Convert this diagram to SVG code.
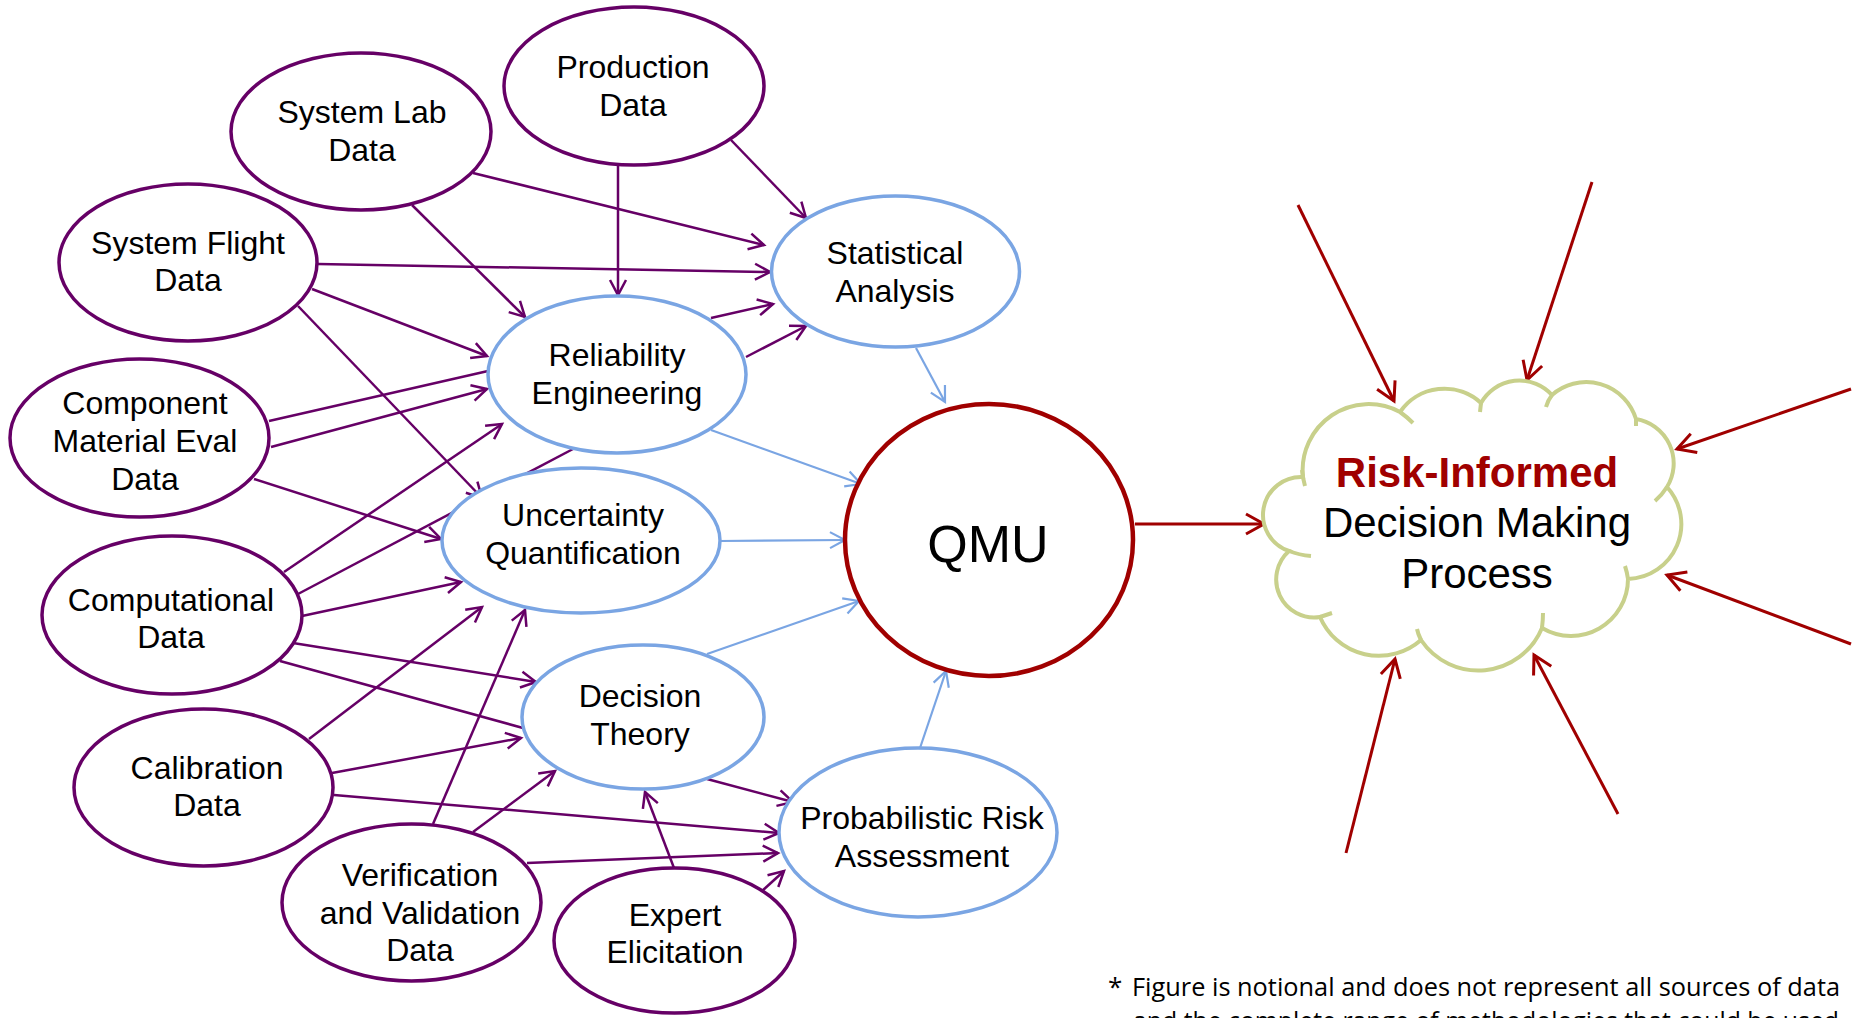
<svg xmlns="http://www.w3.org/2000/svg" width="1860" height="1018" viewBox="0 0 1860 1018">
  <style>
    .src ellipse { fill: #ffffff; stroke: #660066; stroke-width: 3.5; }
    .mth ellipse { fill: #ffffff; stroke: #7aa5e3; stroke-width: 3.5; }
    .qmu ellipse { fill: #ffffff; stroke: #a00000; stroke-width: 4.5; }
    text { font-family: "Liberation Sans", Arial, sans-serif; font-size: 32px; fill: #000000; text-anchor: middle; }
    .p { stroke: #660066; stroke-width: 2.5; fill: none; marker-end: url(#ah-p); }
    .pn { stroke: #660066; stroke-width: 2.5; fill: none; }
    .b { stroke: #7aa5e3; stroke-width: 2.2; fill: none; marker-end: url(#ah-b); }
    .r { stroke: #a00000; stroke-width: 3; fill: none; marker-end: url(#ah-r); }
    .cloud { fill: #ffffff; stroke: #c8d08b; stroke-width: 4; stroke-linecap: butt; }
    .hook { fill: none; stroke: #c8d08b; stroke-width: 4; }
    .note { font-family: "Open Sans", "Liberation Sans", sans-serif; font-size: 26px; text-anchor: start; }
  </style>
  <defs>
    <marker id="ah-p" markerUnits="userSpaceOnUse" viewBox="-20 -12 24 24" refX="0" refY="0" markerWidth="24" markerHeight="24" orient="auto" overflow="visible">
      <path d="M-15,-8 L0,0 L-15,8" fill="none" stroke="#660066" stroke-width="2.5"/>
    </marker>
    <marker id="ah-b" markerUnits="userSpaceOnUse" viewBox="-20 -12 24 24" refX="0" refY="0" markerWidth="24" markerHeight="24" orient="auto" overflow="visible">
      <path d="M-15,-8 L0,0 L-15,8" fill="none" stroke="#7aa5e3" stroke-width="2.2"/>
    </marker>
    <marker id="ah-r" markerUnits="userSpaceOnUse" viewBox="-24 -14 28 28" refX="0" refY="0" markerWidth="28" markerHeight="28" orient="auto" overflow="visible">
      <path d="M-18,-10 L0,0 L-18,10" fill="none" stroke="#a00000" stroke-width="3"/>
    </marker>
  </defs>

  <rect width="1860" height="1018" fill="#ffffff"/>

  <!-- connectors -->
  <g id="connectors">
    <!-- data sources into methods -->
    <line class="p" x1="618" y1="165" x2="618" y2="295"/>
    <line class="p" x1="731" y1="140" x2="806" y2="218"/>
    <line class="p" x1="473" y1="173" x2="764" y2="245"/>
    <line class="p" x1="412" y1="205" x2="525" y2="317"/>
    <line class="p" x1="318" y1="264" x2="770" y2="272"/>
    <line class="p" x1="312" y1="289" x2="487" y2="356"/>
    <line class="p" x1="298" y1="306" x2="482" y2="498"/>
    <line class="pn" x1="269" y1="421" x2="488" y2="371"/>
    <line class="p" x1="271" y1="447" x2="487" y2="389"/>
    <line class="p" x1="254" y1="479" x2="441" y2="539"/>
    <line class="p" x1="284" y1="572" x2="502" y2="424"/>
    <line class="pn" x1="298" y1="594" x2="573" y2="449"/>
    <line class="p" x1="302" y1="616" x2="461" y2="582"/>
    <line class="p" x1="293" y1="643" x2="536" y2="682"/>
    <line class="pn" x1="280" y1="661" x2="523" y2="728"/>
    <line class="p" x1="309" y1="739" x2="482" y2="607"/>
    <line class="p" x1="332" y1="773" x2="521" y2="738"/>
    <line class="p" x1="334" y1="795" x2="779" y2="833"/>
    <line class="p" x1="433" y1="824" x2="525" y2="610"/>
    <line class="p" x1="473" y1="832" x2="555" y2="771"/>
    <line class="p" x1="527" y1="863" x2="778" y2="853"/>
    <line class="p" x1="674" y1="868" x2="645" y2="792"/>
    <line class="p" x1="762" y1="891" x2="784" y2="871"/>
    <line class="p" x1="707" y1="779" x2="793" y2="802"/>
    <line class="p" x1="711" y1="318" x2="773" y2="304"/>
    <line class="p" x1="746" y1="357" x2="806" y2="326"/>
    <!-- methods into QMU -->
    <line class="b" x1="916" y1="348" x2="945" y2="402"/>
    <line class="b" x1="711" y1="430" x2="861" y2="484"/>
    <line class="b" x1="720" y1="541" x2="845" y2="540"/>
    <line class="b" x1="707" y1="654" x2="859" y2="601"/>
    <line class="b" x1="920" y1="748" x2="946" y2="671"/>
    <!-- QMU and other inputs into the decision cloud -->
    <line class="r" x1="1135" y1="524" x2="1264" y2="524"/>
    <line class="r" x1="1298" y1="205" x2="1394" y2="401"/>
    <line class="r" x1="1592" y1="182" x2="1527" y2="380"/>
    <line class="r" x1="1851" y1="389" x2="1677" y2="449"/>
    <line class="r" x1="1851" y1="644" x2="1667" y2="575"/>
    <line class="r" x1="1346" y1="853" x2="1395" y2="659"/>
    <line class="r" x1="1618" y1="814" x2="1534" y2="655"/>
  </g>

  <!-- data sources -->
  <g id="production-data" class="src">
    <ellipse cx="634" cy="86" rx="130" ry="79"/>
    <text x="633" y="78">Production</text>
    <text x="633" y="116">Data</text>
  </g>
  <g id="system-lab-data" class="src">
    <ellipse cx="361" cy="131.5" rx="130" ry="78.5"/>
    <text x="362" y="123">System Lab</text>
    <text x="362" y="161">Data</text>
  </g>
  <g id="system-flight-data" class="src">
    <ellipse cx="188" cy="262.5" rx="129" ry="78.5"/>
    <text x="188" y="254">System Flight</text>
    <text x="188" y="291">Data</text>
  </g>
  <g id="component-material-eval-data" class="src">
    <ellipse cx="139.5" cy="438" rx="129.5" ry="79"/>
    <text x="145" y="414">Component</text>
    <text x="145" y="452">Material Eval</text>
    <text x="145" y="490">Data</text>
  </g>
  <g id="computational-data" class="src">
    <ellipse cx="172" cy="615" rx="130" ry="79"/>
    <text x="171" y="611">Computational</text>
    <text x="171" y="648">Data</text>
  </g>
  <g id="calibration-data" class="src">
    <ellipse cx="203.5" cy="787.5" rx="129.5" ry="78.5"/>
    <text x="207" y="779">Calibration</text>
    <text x="207" y="816">Data</text>
  </g>
  <g id="vv-data" class="src">
    <ellipse cx="411.5" cy="902.5" rx="129.5" ry="78.5"/>
    <text x="420" y="886">Verification</text>
    <text x="420" y="924">and Validation</text>
    <text x="420" y="961">Data</text>
  </g>
  <g id="expert-elicitation" class="src">
    <ellipse cx="674.5" cy="940.5" rx="120.5" ry="72.5"/>
    <text x="675" y="926">Expert</text>
    <text x="675" y="963">Elicitation</text>
  </g>

  <!-- methods -->
  <g id="statistical-analysis" class="mth">
    <ellipse cx="895.5" cy="271.5" rx="124" ry="75.5"/>
    <text x="895" y="264">Statistical</text>
    <text x="895" y="302">Analysis</text>
  </g>
  <g id="reliability-engineering" class="mth">
    <ellipse cx="617" cy="374.5" rx="129" ry="78.5"/>
    <text x="617" y="366">Reliability</text>
    <text x="617" y="404">Engineering</text>
  </g>
  <g id="uncertainty-quantification" class="mth">
    <ellipse cx="581" cy="540.5" rx="139" ry="72.5"/>
    <text x="583" y="526">Uncertainty</text>
    <text x="583" y="564">Quantification</text>
  </g>
  <g id="decision-theory" class="mth">
    <ellipse cx="643" cy="717" rx="121" ry="72"/>
    <text x="640" y="707">Decision</text>
    <text x="640" y="745">Theory</text>
  </g>
  <g id="probabilistic-risk-assessment" class="mth">
    <ellipse cx="918" cy="832.5" rx="139" ry="84.5"/>
    <text x="922" y="829">Probabilistic Risk</text>
    <text x="922" y="867">Assessment</text>
  </g>

  <!-- QMU -->
  <g id="qmu" class="qmu">
    <ellipse cx="989" cy="540" rx="144" ry="136"/>
    <text x="988" y="562" style="font-size:52px">QMU</text>
  </g>

  <!-- decision cloud -->
  <g id="decision-cloud">
    <path class="cloud" d="M1289,551 A38,38 0 0 1 1303,477 A66,66 0 0 1 1400,412 A54,54 0 0 1 1481,403 A44,44 0 0 1 1552,395 A52,52 0 0 1 1636,419 A45,45 0 0 1 1667,487 A55,55 0 0 1 1628,579 A57,57 0 0 1 1542,628 A69,69 0 0 1 1421,640 A64,64 0 0 1 1320,617 A38,38 0 0 1 1289,551 Z"/>
    <path class="hook" d="M1302,470 Q1303,479 1305,486 M1289,551 Q1299,555 1311,556 M1320,617 Q1326,615 1332,613 M1421,640 Q1418,634 1417,629 M1542,628 Q1543,620 1543,613 M1628,579 Q1627,572 1625,566 M1667,487 Q1662,495 1655,501 M1636,419 L1636,426 M1552,395 Q1548,400 1546,407 M1481,403 L1480,412 M1400,412 Q1407,417 1413,423"/>
    <text x="1477" y="487" style="font-size:42px;font-weight:bold;fill:#a00000">Risk-Informed</text>
    <text x="1477" y="537" style="font-size:42px">Decision Making</text>
    <text x="1477" y="588" style="font-size:42px">Process</text>
  </g>

  <!-- footnote -->
  <g id="footnote">
    <text class="note" x="1108" y="996">*</text>
    <text class="note" x="1132" y="996" textLength="708" lengthAdjust="spacingAndGlyphs">Figure is notional and does not represent all sources of data</text>
    <text class="note" x="1133" y="1030" textLength="706" lengthAdjust="spacingAndGlyphs">and the complete range of methodologies that could be used</text>
  </g>
</svg>
